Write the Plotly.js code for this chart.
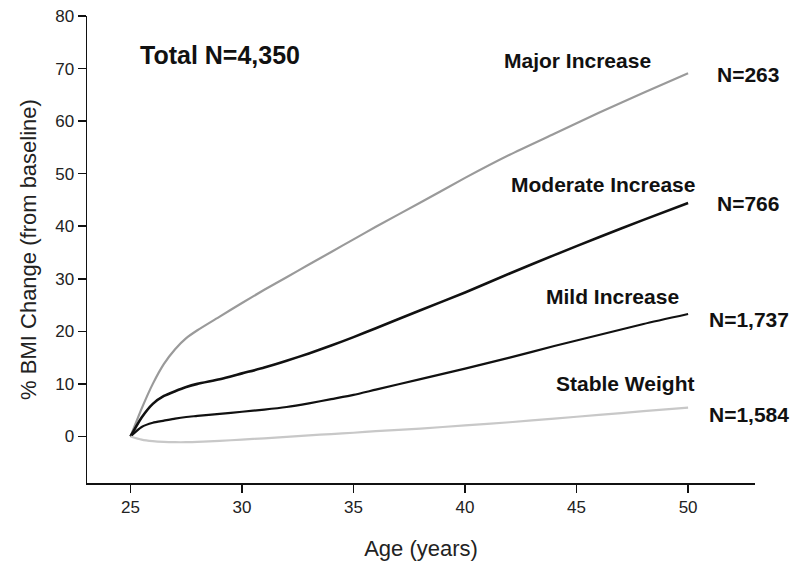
<!DOCTYPE html>
<html>
<head>
<meta charset="utf-8">
<script src="https://cdn.plot.ly/plotly-3.0.1.min.js"></script>
<style>html,body{margin:0;padding:0;background:#fff;}#chart{width:793px;height:564px;}</style>
</head>
<body>
<div id="chart"></div>
<script>
// Age (years)
var ages = [25, 25.5, 26, 26.5, 27, 27.5, 28, 29, 30, 31, 32, 33, 34, 35, 36, 38, 40, 42, 44, 46, 48, 50];
// % BMI change from baseline, by trajectory group
var majorIncrease    = [0, 5.3, 10.0, 13.8, 16.6, 18.7, 20.2, 22.8, 25.4, 27.9, 30.3, 32.7, 35.1, 37.5, 39.9, 44.5, 49.2, 53.6, 57.6, 61.6, 65.4, 69.1];
var moderateIncrease = [0, 3.6, 6.2, 7.7, 8.6, 9.4, 10.0, 10.9, 12.0, 13.1, 14.4, 15.8, 17.3, 18.9, 20.6, 24.0, 27.4, 31.0, 34.5, 37.9, 41.2, 44.4];
var mildIncrease     = [0, 1.8, 2.6, 3.0, 3.4, 3.7, 3.9, 4.3, 4.7, 5.1, 5.6, 6.3, 7.1, 7.9, 8.9, 10.9, 12.9, 15.0, 17.2, 19.3, 21.4, 23.3];
var stableWeight     = [0, -0.6, -0.9, -1.05, -1.1, -1.1, -1.05, -0.85, -0.6, -0.35, -0.1, 0.2, 0.45, 0.7, 1.0, 1.5, 2.1, 2.7, 3.4, 4.1, 4.8, 5.5];

var groupNames = ["Major Increase", "Moderate Increase", "Mild Increase", "Stable Weight"];
var groupN = ["N=263", "N=766", "N=1,737", "N=1,584"];
var totalLabel = "Total N=4,350";
var xTicks = [25, 30, 35, 40, 45, 50];
var yTicks = [0, 10, 20, 30, 40, 50, 60, 70, 80];

var series = [majorIncrease, moderateIncrease, mildIncrease, stableWeight];
var colors = ["#9a9a9a", "#111111", "#111111", "#c8c8c8"];
var widths = [2.2, 2.6, 2.2, 2.2];

var traces = series.map(function(v, i){
  return {x: ages, y: v, type: "scatter", mode: "lines", name: groupNames[i],
          line: {color: colors[i], width: widths[i], shape: "spline", smoothing: 0.6},
          hoverinfo: "skip", showlegend: false};
});

// label positions (data coordinates)
var namePos = [[45.06, 71.6], [46.18, 47.9], [46.63, 26.6], [47.17, 10.0]];
var nPos = [[51.21, 68.8], [51.21, 44.4], [50.85, 22.2], [50.85, 4.1]];

var fam = "Liberation Sans, Arial, sans-serif";
var labelFont = {family: fam, size: 21, color: "#111"};
var annotations = [];
groupNames.forEach(function(t, i){
  annotations.push({x: namePos[i][0], y: namePos[i][1], xref: "x", yref: "y", text: "<b>" + t + "</b>",
    showarrow: false, xanchor: "center", yanchor: "middle", font: labelFont});
  annotations.push({x: nPos[i][0], y: nPos[i][1], xref: "x", yref: "y", text: "<b>" + groupN[i] + "</b>",
    showarrow: false, xanchor: "left", yanchor: "middle", font: labelFont});
});
annotations.push({x: 29.0, y: 72.6, xref: "x", yref: "y", text: "<b>" + totalLabel + "</b>",
  showarrow: false, xanchor: "center", yanchor: "middle",
  font: {family: fam, size: 25, color: "#111"}});

var axisFont = {family: fam, size: 17, color: "#222"};
var layout = {
  width: 793, height: 564,
  margin: {l: 87, r: 38, t: 16, b: 81, pad: 0},
  paper_bgcolor: "#fff", plot_bgcolor: "#fff",
  showlegend: false,
  xaxis: {range: [23.05, 53], tickvals: xTicks, ticktext: xTicks.map(String),
    showgrid: false, zeroline: false, showline: true, linecolor: "#111", linewidth: 1.5,
    ticks: "outside", ticklen: 8, tickwidth: 1.5, tickcolor: "#111", tickfont: axisFont,
    title: {text: "Age (years)", standoff: 24, font: {family: fam, size: 22, color: "#222"}}},
  yaxis: {range: [-8.86, 80], tickvals: yTicks, ticktext: yTicks.map(String),
    showgrid: false, zeroline: false, showline: true, linecolor: "#111", linewidth: 1.5,
    ticks: "outside", ticklen: 8, tickwidth: 1.5, tickcolor: "#111", tickfont: axisFont,
    title: {text: "% BMI Change (from baseline)", standoff: 12, font: {family: fam, size: 22, color: "#222"}}},
  annotations: annotations
};

Plotly.newPlot("chart", traces, layout, {staticPlot: true, displayModeBar: false});
</script>
</body>
</html>
